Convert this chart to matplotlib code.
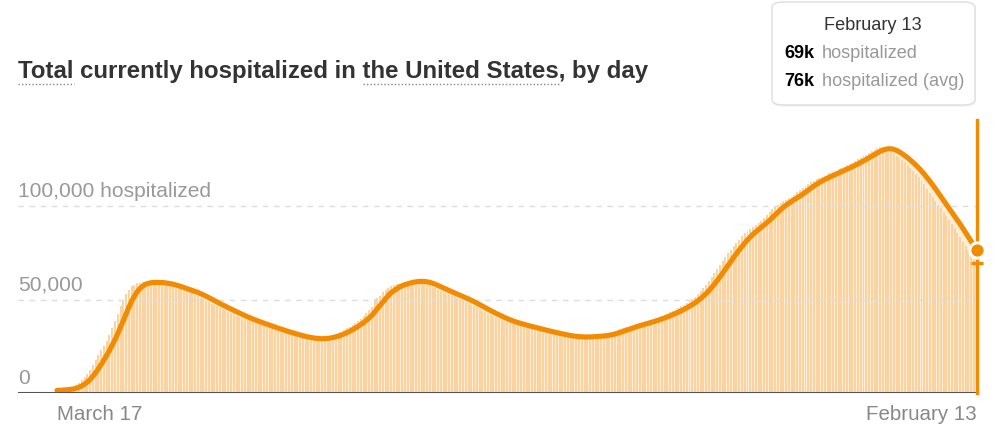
import numpy as np
import pandas as pd
import matplotlib
matplotlib.use("Agg")
import matplotlib.pyplot as plt
from matplotlib.patches import FancyBboxPatch
from matplotlib.lines import Line2D

plt.rcParams['font.family'] = ['Liberation Sans', 'DejaVu Sans']

# daily currently hospitalized, thousands, March 17 2020 .. February 13 2021
hospitalized = [
    1.4, 1.5, 1.7, 2.0, 2.4, 2.8, 3.3,
    4.2, 5.3, 6.8, 8.5, 10.3, 12.5, 15.0,
    17.6, 20.2, 22.8, 25.3, 27.8, 30.8, 34.5,
    38.5, 42.5, 46.5, 50.0, 53.0, 55.3, 57.0,
    58.0, 58.6, 59.0, 59.2, 59.3, 59.3, 59.2,
    59.1, 59.0, 58.8, 58.7, 58.5, 57.9, 57.4,
    56.9, 56.4, 55.9, 55.4, 54.9, 54.4, 53.9,
    53.4, 52.6, 51.8, 51.0, 50.2, 49.4, 48.6,
    47.8, 47.0, 46.3, 45.6, 44.9, 44.2, 43.5,
    42.8, 42.1, 41.4, 40.7, 40.0, 39.4, 38.9,
    38.4, 37.8, 37.3, 36.8, 36.3, 35.7, 35.2,
    34.7, 34.2, 33.7, 33.2, 32.8, 32.3, 31.9,
    31.4, 31.0, 30.6, 30.2, 29.9, 29.6, 29.3,
    29.1, 28.9, 28.9, 28.9, 29.0, 29.2, 29.5,
    29.9, 30.4, 30.9, 31.5, 32.1, 32.8, 33.7,
    34.6, 35.5, 36.5, 37.5, 38.6, 39.8, 41.2,
    42.7, 44.4, 46.2, 50.5, 51.0, 52.0, 53.9,
    55.3, 56.3, 57.0, 57.6, 58.1, 58.5, 58.9,
    59.3, 59.6, 59.9, 60.0, 60.0, 59.8, 59.4,
    58.9, 58.3, 57.6, 56.9, 56.1, 55.3, 54.6,
    54.1, 53.5, 52.9, 52.3, 51.7, 51.0, 50.4,
    49.7, 48.9, 48.1, 47.3, 46.5, 45.6, 44.8,
    44.0, 43.3, 42.5, 41.8, 41.1, 40.4, 39.7,
    39.0, 38.5, 38.0, 37.5, 37.1, 36.7, 36.3,
    35.9, 35.6, 35.2, 34.8, 34.4, 34.1, 33.7,
    33.3, 32.9, 32.6, 32.2, 31.9, 31.6, 31.3,
    31.0, 30.7, 30.4, 30.1, 30.0, 29.9, 29.9,
    29.9, 30.0, 30.0, 30.1, 30.2, 30.3, 30.5,
    30.6, 30.8, 31.0, 31.3, 31.7, 32.3, 32.9,
    33.6, 34.2, 34.7, 35.1, 35.5, 36.0, 36.4,
    36.9, 37.3, 37.7, 38.1, 38.5, 38.9, 39.5,
    40.1, 40.7, 41.3, 41.9, 42.5, 43.1, 43.8,
    44.6, 45.4, 46.3, 47.2, 48.1, 49.1, 50.1,
    51.4, 52.9, 54.6, 56.2, 57.8, 59.7, 61.8,
    64.0, 66.3, 68.4, 70.5, 72.6, 74.7, 76.7,
    78.5, 80.3, 82.0, 83.7, 85.3, 86.5, 87.6,
    88.6, 89.6, 90.7, 92.1, 93.6, 95.2, 96.8,
    98.4, 99.8, 100.8, 101.7, 102.5, 103.3, 104.2,
    105.0, 106.1, 107.3, 108.5, 109.7, 110.9, 111.9,
    112.8, 113.5, 114.2, 114.9, 115.6, 116.3, 117.0,
    117.7, 118.3, 118.9, 119.6, 120.3, 121.0, 121.7,
    122.4, 123.2, 124.0, 124.9, 125.8, 126.6, 127.5,
    128.3, 129.2, 130.2, 131.0, 131.5, 131.4, 130.9,
    130.0, 129.1, 128.1, 127.0, 125.9, 124.8, 123.5,
    122.0, 120.4, 118.8, 117.2, 115.6, 113.6, 111.5,
    109.3, 107.2, 105.0, 102.9, 100.8, 98.7, 96.7,
    94.6, 92.6, 90.5, 88.2, 85.8, 83.4, 81.0,
    78.7, 76.4, 74.1, 71.7, 69.3,
]
start_label = "March 17"
end_label = "February 13"
y_ticks = [0, 50, 100]
y_tick_labels = ["0", "50,000", "100,000 hospitalized"]
title = "Total currently hospitalized in the United States, by day"

daily = np.array(hospitalized) * 1000
avg = pd.Series(daily).rolling(7, min_periods=1).mean().values
days = np.arange(len(daily))

W, H = 998, 440
fig = plt.figure(figsize=(W / 100, H / 100), dpi=100)


def fx(x):
    return x / W


def fy(y):
    return 1 - y / H


ax = fig.add_axes([fx(18), fy(393), fx(978.4) - fx(18), fy(112.5) - fy(393)])
ax.set_xlim(-14.12, 333.6)
ax.set_ylim(0, 150000)
ax.axis('off')

orange = '#f28b00'
ax.fill_between(days, 0, avg, color='#fdecd6', lw=0, zorder=1)
ax.bar(days, daily, width=0.72, color='#fbd3a0', lw=0, zorder=2)
ax.plot(days, avg, color=orange, lw=3.7, solid_capstyle='round', zorder=4)

for v in y_ticks[1:]:
    ax.axhline(v * 1000, color='#dddddd', lw=1, ls=(0, (4, 4)), zorder=3)
ax.axhline(0, color='#555555', lw=2.2, zorder=5)
for v, lab in zip(y_ticks, y_tick_labels):
    ax.annotate(lab, (-14.12, v * 1000), xytext=(0, 3.5), textcoords='offset points',
                color='#999999', fontsize=15.1, va='bottom', ha='left')

# hover marker on last day
last = days[-1]
ax.plot([last, last], [0, 146000], color=orange, lw=2.4, zorder=6, clip_on=False)
ax.plot(last, daily[-1], marker='_', ms=9, mew=2.4, color=orange, zorder=7, clip_on=False)
ax.plot(last, avg[-1], marker='o', ms=11, mfc=orange, mec='white', mew=2.2, zorder=8,
        clip_on=False)

# x labels
ax.annotate(start_label, (0, 0), xytext=(0, -8.5), textcoords='offset points',
            color='#888888', fontsize=14.8, ha='left', va='top')
ax.annotate(end_label, (last, 0), xytext=(0, -8.5), textcoords='offset points',
            color='#888888', fontsize=14.8, ha='right', va='top')

# title with dotted underlines
tsize = 17.25
t = fig.text(fx(18), fy(78), title, fontsize=tsize, fontweight='bold', color='#333333',
             ha='left', va='baseline')
fig.canvas.draw()
r = fig.canvas.get_renderer()


def text_w(s):
    tt = fig.text(0, 0, s, fontsize=tsize, fontweight='bold')
    w = tt.get_window_extent(r).width
    tt.remove()
    return w


x0 = t.get_window_extent(r).x0
for word, prefix in [("Total", "Total"),
                     ("the United States", "Total currently hospitalized in the United States")]:
    end = x0 + text_w(prefix)
    beg = end - text_w(word)
    fig.add_artist(Line2D([fx(beg), fx(end)], [fy(84), fy(84)], color='#888888', lw=1,
                          ls=(0, (1, 1.5))))

# tooltip
shadow = FancyBboxPatch((fx(773), fy(107)), fx(203), fy(2) - fy(107) - 0.004,
                        boxstyle='round,pad=0,rounding_size=0.012', transform=fig.transFigure,
                        fc='#eeeeee', ec='none', alpha=0.5, zorder=9)
box = FancyBboxPatch((fx(772), fy(105)), fx(203), fy(2) - fy(105),
                     boxstyle='round,pad=0,rounding_size=0.012', transform=fig.transFigure,
                     fc='white', ec='#dddddd', lw=1, zorder=10)
fig.add_artist(shadow)
fig.add_artist(box)
fs = 13.1
fig.text(fx(873), fy(25), end_label, fontsize=fs, color='#333333', ha='center', va='center',
         zorder=11)
fig.text(fx(784), fy(54), f"{daily[-1] / 1000:.0f}k", fontsize=fs, fontweight='bold',
         color='black', ha='left', va='center', zorder=11)
fig.text(fx(822), fy(54), "hospitalized", fontsize=fs, color='#999999', ha='left',
         va='center', zorder=11)
fig.text(fx(784), fy(82), f"{avg[-1] / 1000:.0f}k", fontsize=fs, fontweight='bold',
         color='black', ha='left', va='center', zorder=11)
fig.text(fx(822), fy(82), "hospitalized (avg)", fontsize=fs, color='#999999', ha='left',
         va='center', zorder=11)

fig.savefig('out.png', dpi=100)
